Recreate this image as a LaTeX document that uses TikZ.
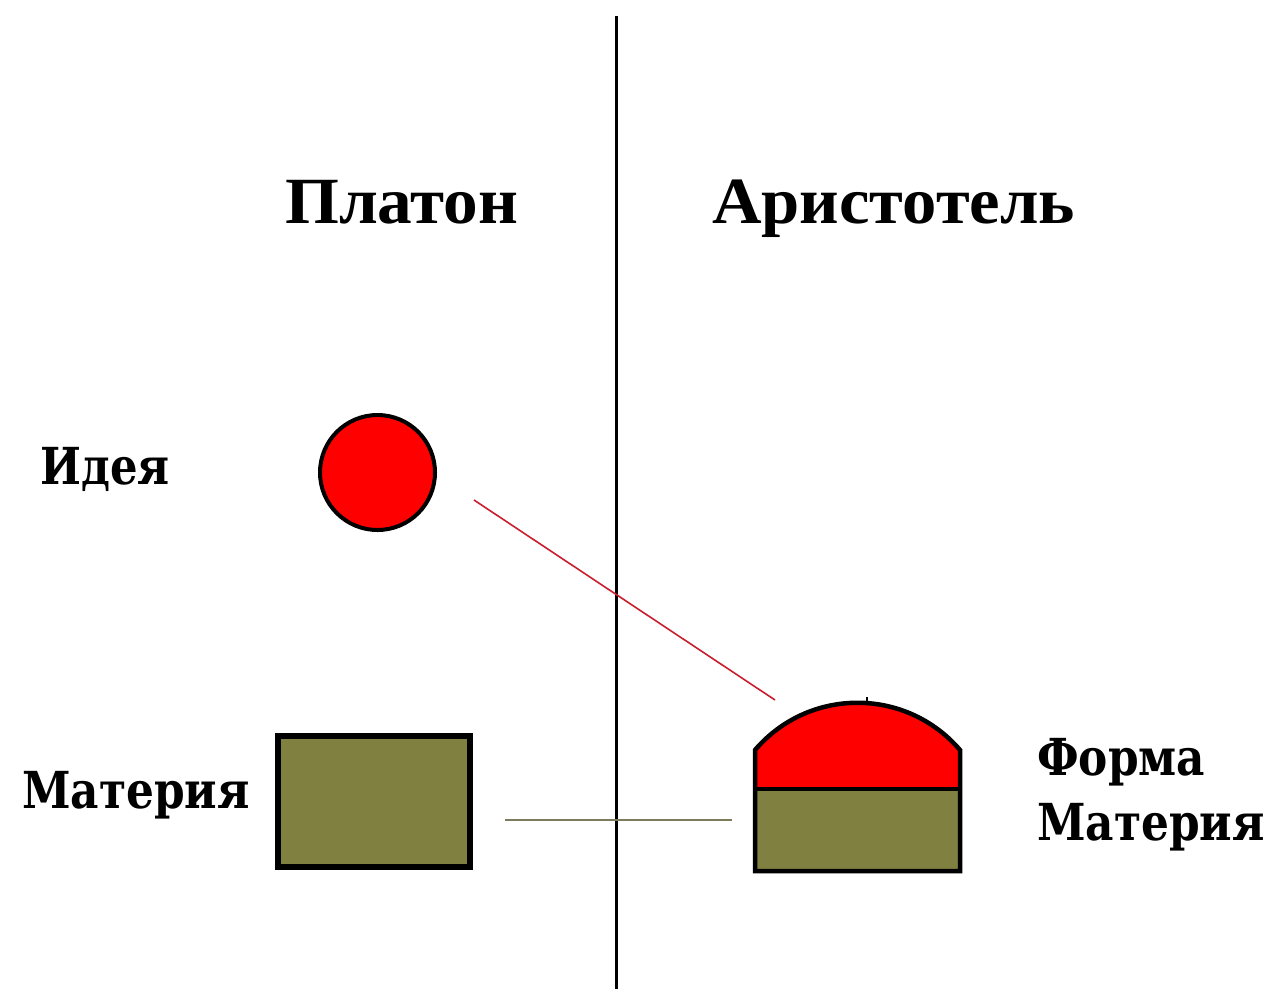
\documentclass[tikz,border=0pt]{standalone}
\usepackage{fontspec}
\setmainfont{Liberation Serif}
\newfontfamily\labfont{DejaVu Serif}
\newfontfamily\headfont{Liberation Serif}
\definecolor{olivefill}{HTML}{808040}
\definecolor{oliveline}{HTML}{7C7C5C}
\definecolor{linkred}{HTML}{C81E2E}
\begin{document}
\begin{tikzpicture}[x=1pt,y=-1pt,
  header/.style={anchor=base west,inner sep=0pt,font=\headfont\bfseries\fontsize{66}{70}\selectfont},
  label/.style={anchor=base west,inner sep=0pt,font=\labfont\bfseries\fontsize{51}{56}\selectfont},
  outline/.style={draw=black,line width=4.5pt}]
\useasboundingbox (0,0) rectangle (1274,989);
\fill[white] (0,0) rectangle (1274,989);
% divider
\coordinate (divtop) at (616.5,16);
\coordinate (divbot) at (616.5,989);
\draw[line width=2.5pt,black] (divtop) -- (divbot);
% headers
\node[header] (platon) at (285,223) {\scalebox{1.05}[1]{Платон}};
\node[header] (aristotel) at (712,223) {\scalebox{1.04}[1]{Аристотель}};
% Plato side
\node[label] (idea) at (40,484) {\scalebox{0.85}[1]{Идея}};
\node[label] (materiaL) at (22,808) {\scalebox{0.86}[1]{Материя}};
\node[circle,outline,line width=4pt,fill=red,minimum size=115pt,inner sep=0pt] (ideacircle) at (377.5,472.5) {};
\node[rectangle,outline,line width=6pt,fill=olivefill,minimum width=192pt,minimum height=131pt,inner sep=0pt] (matrect) at (374,801.5) {};
% Aristotle composite
\coordinate (dl) at (755,750);
\coordinate (dr) at (960,750);
\coordinate (ml) at (755,789);
\coordinate (mr) at (960,789);
\coordinate (bl) at (755,871);
\coordinate (br) at (960,871);
\fill[red] (ml) -- (dl) .. controls (809,687) and (906,687) .. (dr) -- (mr) -- cycle;
\fill[olivefill] (ml) -- (bl) -- (br) -- (mr) -- cycle;
\draw[outline,line join=miter] (bl) -- (dl) .. controls (809,687) and (906,687) .. (dr) -- (br) -- cycle;
\draw[outline] (ml) -- (mr);
\coordinate (ticktop) at (867,697);
\coordinate (tickbot) at (867,704);
\draw[line width=1.5pt] (ticktop) -- (tickbot);
\node[label] (forma) at (1037,775) {\scalebox{0.86}[1]{Форма}};
\node[label] (materiaR) at (1037,840) {\scalebox{0.86}[1]{Материя}};
% connectors
\coordinate (redA) at (474,500);
\coordinate (redB) at (775,700);
\draw[linkred,line width=1.6pt] (redA) -- (redB);
\coordinate (oliveA) at (505,819.5);
\coordinate (oliveB) at (732,819.5);
\draw[oliveline,line width=2pt] (oliveA) -- (oliveB);
\end{tikzpicture}
\end{document}
